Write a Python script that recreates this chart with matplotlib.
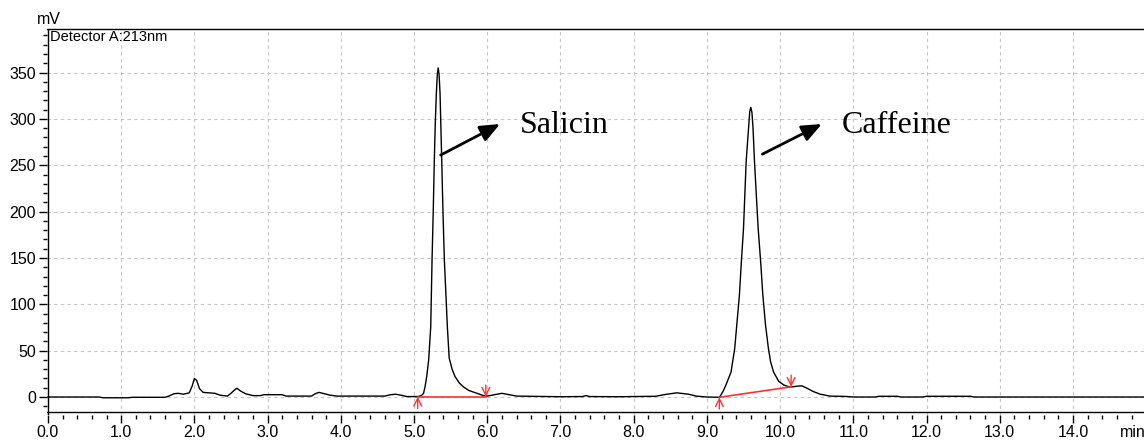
import matplotlib.pyplot as plt
from matplotlib.ticker import MultipleLocator, FormatStrFormatter

# 読み取ったクロマトグラム (min, mV)
time_min = [0.0, 0.7, 0.75, 1.1, 1.15, 1.6, 1.65, 1.72, 1.78, 1.85, 1.93, 1.97,
            2.0, 2.03, 2.07, 2.12, 2.2, 2.28, 2.35, 2.45, 2.5, 2.54, 2.58, 2.63,
            2.7, 2.8, 2.9, 2.95, 3.2, 3.25, 3.6, 3.65, 3.7, 3.78, 3.85, 3.95,
            4.6, 4.68, 4.75, 4.82, 4.9, 5.05, 5.1, 5.13, 5.15, 5.173, 5.2, 5.228,
            5.246, 5.262, 5.277, 5.29, 5.305, 5.318, 5.33, 5.342, 5.355, 5.366,
            5.378, 5.395, 5.414, 5.435, 5.455, 5.48, 5.52,
            5.56, 5.62, 5.674, 5.75, 5.86, 5.95, 6.0, 6.1, 6.2, 6.3, 6.4, 6.6,
            7.0, 7.3, 7.35, 7.4, 7.8, 8.0, 8.3, 8.45, 8.59, 8.75, 8.85, 9.0,
            9.17, 9.19, 9.22, 9.26, 9.33, 9.38, 9.41, 9.444, 9.47, 9.5, 9.536,
            9.57, 9.585, 9.6, 9.615, 9.63, 9.65,
            9.7, 9.735, 9.764, 9.8, 9.84, 9.87, 9.91, 9.98, 10.05, 10.12, 10.17,
            10.27, 10.3, 10.38, 10.45, 10.55, 10.68, 10.9, 11.0, 11.3, 11.35,
            11.6, 11.65, 11.95, 12.0, 12.6, 12.65, 15.0]
signal_mv = [0.0, 0.0, -0.8, -0.8, -0.3, -0.3, 1.0, 3.5, 4.0, 3.0, 4.5, 12,
             20, 18, 9, 5, 4.5, 4.0, 2.0, 1.0, 4, 7, 9.5, 6.5,
             3.5, 1.5, 1.5, 2.5, 2.5, 1.0, 1.0, 3.5, 5.0, 3.5, 2.0, 1.0,
             1.0, 2.5, 3.0, 2.0, 0.5, 0.5, 1.5, 4, 11, 22, 40, 76,
             148, 200, 256, 295, 328, 348, 355, 348, 328, 295,
             256, 200, 148, 110, 76, 42, 30,
             22, 15, 11, 7, 4, 1.5, 1.0, 2.5, 4.0, 2.5, 1.0, 0.8,
             0.3, 0.5, 1.5, 0.5, 0.3, 0.5, 0.8, 3, 4.5, 3, 1, 0,
             -0.3, 2, 6, 13, 27, 52.5, 80, 110, 145, 182, 253.8,
             292, 308, 312.5, 307, 290, 253.8,
             182, 145, 110, 78, 52.5, 38, 27, 17, 13, 11, 11,
             12, 12, 9, 6, 3, 1, 0.6, 0, 0, 0.8,
             0.8, 0, 0, 0.8, 0.8, 0, 0]

# 積分ベースライン (開始, 終了)
base_t = [[5.05, 5.98], [9.17, 10.15]]
base_y = [[0.3, 0.3], [-0.3, 11.0]]

# ピーク名
peak_names = ['Salicin', 'Caffeine']
label_t = [6.45, 10.84]
label_y = [285, 285]
arrow_tail = [(5.364, 261), (9.758, 262)]
arrow_tip = [(6.175, 294.5), (10.57, 294.5)]

fig = plt.figure(figsize=(11.44, 4.44), dpi=100)
ax = fig.add_axes([46.5 / 1144, (444 - 415) / 444,
                   1 - 46.5 / 1144, (415 - 29) / 444])

ax.plot(time_min, signal_mv, color='black', lw=1.0, zorder=3)

for bt, by in zip(base_t, base_y):
    ax.plot(bt, by, color='#ff3030', lw=1.2, zorder=4)
    # 開始は上向き、終了は下向きの矢印
    ax.annotate('', xy=(bt[0], by[0]), xytext=(bt[0], by[0] - 12.6),
                arrowprops=dict(arrowstyle='->', color='#ff3030', lw=1.0,
                                shrinkA=0, shrinkB=0, mutation_scale=14))
    ax.annotate('', xy=(bt[1], by[1]), xytext=(bt[1], by[1] + 12.6),
                arrowprops=dict(arrowstyle='->', color='#ff3030', lw=1.0,
                                shrinkA=0, shrinkB=0, mutation_scale=14))

for name, lt, ly, tail, tip in zip(peak_names, label_t, label_y, arrow_tail, arrow_tip):
    ax.annotate('', xy=tip, xytext=tail,
                arrowprops=dict(arrowstyle='-|>,head_length=0.6,head_width=0.25',
                                color='black', lw=2, shrinkA=0, shrinkB=0,
                                mutation_scale=20))
    ax.text(lt, ly, name, family='Liberation Serif', fontsize=23,
            ha='left', va='baseline')

# 軸の設定
ax.set_xlim(-0.02, 14.97)
ax.set_ylim(-19.4, 397)
ax.xaxis.set_major_locator(MultipleLocator(1.0))
ax.xaxis.set_minor_locator(MultipleLocator(0.2))
ax.yaxis.set_major_locator(MultipleLocator(50))
ax.yaxis.set_minor_locator(MultipleLocator(10))
ax.xaxis.set_major_formatter(FormatStrFormatter('%.1f'))
ax.set_xticks([t for t in range(0, 15)])
ax.set_yticks(range(0, 351, 50))
ax.tick_params(which='major', direction='out', length=5.5, width=1,
               labelsize=11.5, pad=2)
ax.tick_params(which='minor', direction='out', length=3, width=1)
for lab in ax.get_xticklabels() + ax.get_yticklabels():
    lab.set_family('Liberation Sans')

ax.grid(True, which='major', color='#c4c4c4', lw=0.8, linestyle=(0, (3, 3)))
ax.set_axisbelow(True)

for s in ['left', 'bottom', 'right']:
    ax.spines[s].set_visible(False)
ax.spines['top'].set_linewidth(1)
ax.axvline(0, color='black', lw=1, zorder=5)
ax.axhline(-15.8, color='black', lw=1, zorder=5)

ax.text(0.03, 396, 'Detector A:213nm', family='Liberation Sans', fontsize=10.5,
        ha='left', va='top')
fig.text(49 / 1144, 1 - 20 / 444, 'mV', family='Liberation Sans', fontsize=11.5,
         ha='center', va='center')
fig.text(1120 / 1144, (444 - 436.7) / 444, 'min', family='Liberation Sans',
         fontsize=11.5, ha='left', va='baseline')

fig.savefig('out.png', dpi=100)
